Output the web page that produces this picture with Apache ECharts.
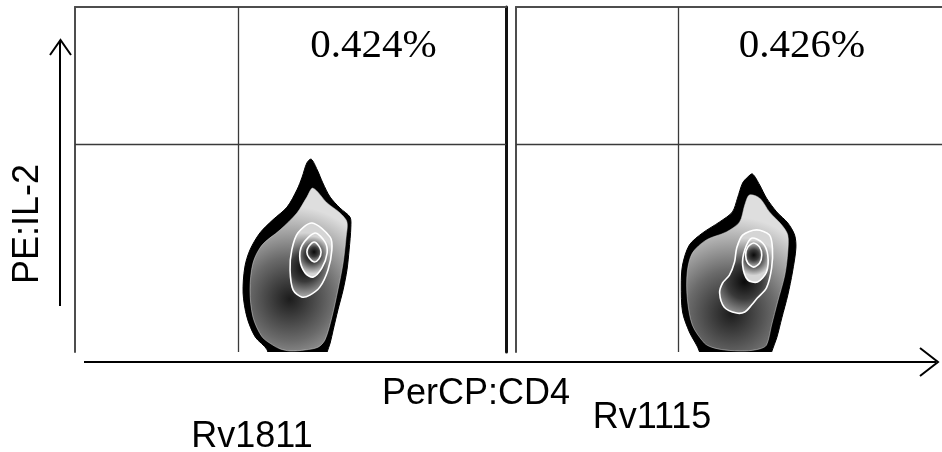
<!DOCTYPE html>
<html>
<head>
<meta charset="utf-8">
<title>PE:IL-2 vs PerCP:CD4</title>
<script src="https://cdn.jsdelivr.net/npm/echarts@6/dist/echarts.min.js"></script>
<style>
  html, body { margin: 0; padding: 0; background: #fff; }
  #chart { width: 942px; height: 452px; }
</style>
</head>
<body>
<div id="chart"></div>
<script>
// Sample names and axis channels
const sampleNames = ['Rv1811', 'Rv1115'];
const xChannel = 'PerCP:CD4';
const yChannel = 'PE:IL-2';

// Upper-right quadrant frequency for each sample
const upperRightPct = ['0.424%', '0.426%'];

// Quadrant gate positions (channel units, 0-1000)
const gateX = [378, 381];
const gateY = [603, 603];

// Density contours, outermost first: [CD4, IL-2] in channel units
const rv1811Outer = [[548,559],[562,528],[575,490],[592,449],[615,417],[638,391],[640,362],[636,296],[631,238],[622,180],[610,122],[599,64],[592,26],[585,0],[580,-29],[448,-29],[446,6],[418,44],[399,101],[390,171],[394,246],[406,296],[429,345],[459,383],[492,420],[515,470],[527,507],[538,548]];
const rv1811Level1 = [[552,475],[585,432],[615,403],[631,377],[629,333],[622,258],[610,180],[596,101],[580,35],[564,14],[534,6],[499,3],[476,9],[459,20],[434,44],[413,101],[406,180],[413,258],[434,310],[476,354],[515,403],[538,449]];
const rv1811Level2 = [[550,374],[592,333],[596,296],[587,238],[568,188],[545,165],[527,159],[506,180],[499,238],[503,296],[517,345]];
const rv1811Level3 = [[557,345],[580,319],[585,287],[573,244],[552,217],[534,229],[522,267],[527,310]];
const rv1811Level4 = [[555,319],[566,307],[571,290],[566,270],[555,261],[543,273],[538,290],[543,307]];

const rv1115Outer = [[555,516],[572,484],[588,446],[612,406],[638,374],[654,339],[657,301],[649,232],[638,165],[624,99],[612,41],[600,0],[595,-29],[426,-29],[431,0],[407,58],[391,116],[388,194],[391,252],[407,310],[438,345],[478,377],[508,406],[520,446],[532,490],[544,507]];
const rv1115Level1 = [[548,455],[572,446],[595,406],[624,368],[638,339],[638,290],[631,223],[614,145],[600,78],[588,20],[572,9],[537,3],[489,6],[459,14],[442,26],[414,78],[402,157],[402,232],[414,287],[447,325],[494,348],[525,377],[537,426]];
const rv1115Level2 = [[565,354],[595,339],[602,301],[600,243],[588,186],[567,157],[553,136],[537,116],[518,113],[489,130],[478,171],[485,200],[501,223],[513,261],[518,301],[532,339]];
const rv1115Level3 = [[553,330],[579,316],[591,281],[588,232],[567,203],[544,209],[532,252],[537,296]];
const rv1115Level4 = [[558,316],[572,304],[577,281],[572,258],[558,246],[544,258],[539,281],[544,304]];

const contourSets = [
  [rv1811Outer, rv1811Level1, rv1811Level2, rv1811Level3, rv1811Level4],
  [rv1115Outer, rv1115Level1, rv1115Level2, rv1115Level3, rv1115Level4]
];

// Shading of each band: gradient focus (relative to band bbox) and radius
const bandShades = [
  [
    null,
    { cx: 0.41, cy: 0.68, r: 0.95 },
    { cx: 0.35, cy: 0.6, r: 0.8 },
    { cx: 0.45, cy: 0.5, r: 0.65 },
    { cx: 0.5, cy: 0.5, r: 0.75 }
  ],
  [
    null,
    { cx: 0.44, cy: 0.76, r: 0.95 },
    { cx: 0.47, cy: 0.62, r: 0.8 },
    { cx: 0.44, cy: 0.45, r: 0.65 },
    { cx: 0.5, cy: 0.5, r: 0.75 }
  ]
];

function bandStyle(shade, level) {
  if (level === 0) {
    return { fill: '#000', stroke: '#000', lineWidth: 1 };
  }
  const stops = level === 1
    ? [{ offset: 0, color: '#1c1c1c' }, { offset: 0.45, color: '#6a6a6a' }, { offset: 1, color: '#dedede' }]
    : [{ offset: 0, color: '#0a0a0a' }, { offset: 0.4, color: '#3a3a3a' }, { offset: 1, color: '#d5d5d5' }];
  return {
    fill: new echarts.graphic.RadialGradient(shade.cx, shade.cy, shade.r, stops),
    stroke: level === 1 ? '#d8d8d8' : '#ffffff',
    lineWidth: level === 1 ? 0.5 : 1.6
  };
}

function contourRenderer(panel) {
  return function (params, api) {
    const level = params.dataIndex;
    const pts = contourSets[panel][level].map(function (p) { return api.coord(p); });
    return {
      type: 'polygon',
      shape: { points: pts, smooth: 0.3 },
      style: bandStyle(bandShades[panel][level], level)
    };
  };
}

const grids = [
  { left: 75, top: 7, width: 431, height: 345 },
  { left: 516, top: 7, width: 426, height: 345 }
];

const xAxes = [0, 1].map(function (i) {
  return {
    type: 'value', gridIndex: i, min: 0, max: 1000, position: 'top',
    axisLine: { show: true, onZero: false, lineStyle: { color: '#4d4d4d', width: 2 } },
    axisTick: { show: false }, axisLabel: { show: false }, splitLine: { show: false }
  };
});

const yAxes = [0, 1].map(function (i) {
  return {
    type: 'value', gridIndex: i, min: 0, max: 1000, position: 'left',
    axisLine: { show: true, onZero: false, lineStyle: { color: '#4d4d4d', width: 2 } },
    axisTick: { show: false }, axisLabel: { show: false }, splitLine: { show: false }
  };
});
// heavy divider on the right edge of the first panel
yAxes.push({
  type: 'value', gridIndex: 0, min: 0, max: 1000, position: 'right',
  axisLine: { show: true, onZero: false, lineStyle: { color: '#111', width: 3 } },
  axisTick: { show: false }, axisLabel: { show: false }, splitLine: { show: false }
});

const series = [0, 1].map(function (i) {
  return {
    type: 'custom',
    xAxisIndex: i,
    yAxisIndex: i,
    clip: true,
    silent: true,
    renderItem: contourRenderer(i),
    data: contourSets[i].map(function (c, k) { return [k, 0]; }),
    markLine: {
      silent: true,
      symbol: 'none',
      label: { show: false },
      lineStyle: { color: '#3a3a3a', width: 1.3, type: 'solid' },
      data: [{ xAxis: gateX[i] }, { yAxis: gateY[i] }]
    },
    z: 2
  };
});

const arrowStyle = { stroke: '#000', lineWidth: 2, fill: null };
const sans = 'Liberation Sans, Arial, sans-serif';
const serif = 'Liberation Serif, Times New Roman, serif';

const graphic = [
  // y-channel arrow
  { type: 'polyline', shape: { points: [[60, 306], [60, 41]] }, style: arrowStyle },
  { type: 'polyline', shape: { points: [[50, 55], [60.5, 40], [71, 55]] }, style: arrowStyle },
  // x-channel arrow
  { type: 'polyline', shape: { points: [[84, 362], [936, 362]] }, style: arrowStyle },
  { type: 'polyline', shape: { points: [[920, 348], [938, 362], [920, 376]] }, style: arrowStyle },
  {
    type: 'text', x: 28, y: 224, rotation: Math.PI / 2,
    style: { text: yChannel, fontFamily: sans, fontSize: 36, fill: '#000', align: 'center', verticalAlign: 'middle' }
  },
  {
    type: 'text', x: 476, y: 394,
    style: { text: xChannel, fontFamily: sans, fontSize: 36, fill: '#000', align: 'center', verticalAlign: 'middle' }
  },
  {
    type: 'text', x: 252, y: 437,
    style: { text: sampleNames[0], fontFamily: sans, fontSize: 36, fill: '#000', align: 'center', verticalAlign: 'middle' }
  },
  {
    type: 'text', x: 652, y: 418,
    style: { text: sampleNames[1], fontFamily: sans, fontSize: 36, fill: '#000', align: 'center', verticalAlign: 'middle' }
  },
  {
    type: 'text', x: 373.5, y: 46,
    style: { text: upperRightPct[0], fontFamily: serif, fontSize: 41, fill: '#000', align: 'center', verticalAlign: 'middle' }
  },
  {
    type: 'text', x: 802, y: 46,
    style: { text: upperRightPct[1], fontFamily: serif, fontSize: 41, fill: '#000', align: 'center', verticalAlign: 'middle' }
  }
];

const chart = echarts.init(document.getElementById('chart'), null, { renderer: 'canvas' });
chart.setOption({
  animation: false,
  backgroundColor: '#ffffff',
  grid: grids,
  xAxis: xAxes,
  yAxis: yAxes,
  series: series,
  graphic: graphic
});
</script>
</body>
</html>
